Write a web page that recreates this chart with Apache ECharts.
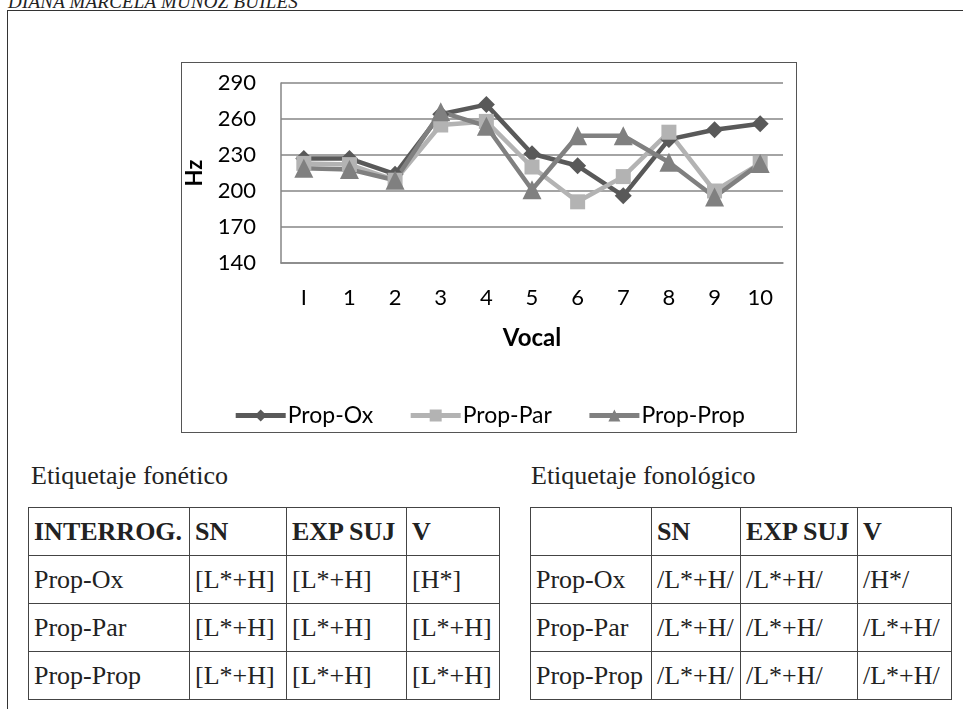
<!DOCTYPE html>
<html>
<head>
<meta charset="utf-8">
<script src="https://cdn.jsdelivr.net/npm/echarts@6/dist/echarts.min.js"></script>
<style>
  html, body { margin: 0; padding: 0; background: #fff; width: 963px; height: 709px; overflow: hidden; position: relative; }
  .hdr { position: absolute; left: 8px; top: -8px; font: italic 19px/19px "Liberation Serif", serif; letter-spacing: 0.2px; color: #222; white-space: nowrap; }
  .frame { position: absolute; left: 7px; top: 10px; width: 1000px; height: 800px; border-left: 1px solid #333; border-top: 1px solid #333; }
  #chart { position: absolute; left: 181px; top: 62px; width: 616px; height: 371px; border: 1px solid #555; box-sizing: border-box; }
  .title { position: absolute; font: 26px "Liberation Serif", serif; color: #222; white-space: nowrap; }
  table { position: absolute; border-collapse: collapse; font: 26px "Liberation Serif", serif; color: #222; table-layout: fixed; }
  td { border: 1px solid #444; height: 48px; padding: 0 0 0 5px; white-space: nowrap; box-sizing: border-box; overflow: visible; }
  td.b { font-weight: bold; }
</style>
</head>
<body>
<div class="hdr">DIANA MARCELA MUÑOZ BUILES</div>
<div class="frame"></div>
<div id="chart"></div>
<div class="title" style="left:31px; top:461px;">Etiquetaje fonético</div>
<div class="title" style="left:531px; top:461px;">Etiquetaje fonológico</div>
<table id="t1" style="left:28px; top:507px; width:471px;">
  <colgroup><col style="width:161px"><col style="width:97px"><col style="width:120px"><col style="width:93px"></colgroup>
</table>
<table id="t2" style="left:530px; top:507px; width:421px;">
  <colgroup><col style="width:121px"><col style="width:89px"><col style="width:117px"><col style="width:94px"></colgroup>
</table>
<script>
// ---- chart data ----
const categories = ['I', '1', '2', '3', '4', '5', '6', '7', '8', '9', '10'];
const seriesNames = ['Prop-Ox', 'Prop-Par', 'Prop-Prop'];
const propOx   = [227, 227, 214, 264, 272, 231, 221, 196, 243, 251, 256];
const propPar  = [223, 222, 209, 255, 258, 220, 191, 212, 249, 200, 223];
const propProp = [219, 218, 209, 266, 254, 201, 246, 246, 224, 195, 223];
const yMin = 140, yMax = 290, yStep = 30;

// ---- table data ----
const phoneticHeader = ['INTERROG.', 'SN', 'EXP SUJ', 'V'];
const phoneticRows = [
  ['Prop-Ox', '[L*+H]', '[L*+H]', '[H*]'],
  ['Prop-Par', '[L*+H]', '[L*+H]', '[L*+H]'],
  ['Prop-Prop', '[L*+H]', '[L*+H]', '[L*+H]']
];
const phonologicalHeader = ['', 'SN', 'EXP SUJ', 'V'];
const phonologicalRows = [
  ['Prop-Ox', '/L*+H/', '/L*+H/', '/H*/'],
  ['Prop-Par', '/L*+H/', '/L*+H/', '/L*+H/'],
  ['Prop-Prop', '/L*+H/', '/L*+H/', '/L*+H/']
];

function fillTable(id, header, rows) {
  const t = document.getElementById(id);
  const hr = document.createElement('tr');
  header.forEach(h => { const td = document.createElement('td'); td.className = 'b'; td.textContent = h; hr.appendChild(td); });
  t.appendChild(hr);
  rows.forEach(r => {
    const tr = document.createElement('tr');
    r.forEach(c => { const td = document.createElement('td'); td.textContent = c; tr.appendChild(td); });
    t.appendChild(tr);
  });
}
fillTable('t1', phoneticHeader, phoneticRows);
fillTable('t2', phonologicalHeader, phonologicalRows);

const font = 'Lato';
const chart = echarts.init(document.getElementById('chart'), null, { renderer: 'canvas' });
const mk = (name, data, color, symbol, size) => ({
  name, type: 'line', data, symbol, symbolSize: size,
  lineStyle: { color, width: 4.5 }, itemStyle: { color }, emphasis: { disabled: true }, animation: false
});
chart.setOption({
  animation: false,
  grid: { left: 99, right: 13, top: 20, bottom: 169, outerBoundsMode: 'none', containLabel: false },
  legend: {
    data: seriesNames.map(n => ({ name: n, lineStyle: { width: 5 } })),
    left: 'center', top: 336, itemWidth: 50, itemHeight: 15, itemGap: 35,
    lineStyle: { width: 5 },
    textStyle: { fontFamily: font, fontSize: 23, color: '#000', padding: [0, 0, 0, -3] }
  },
  xAxis: {
    type: 'category', data: categories, boundaryGap: true,
    name: 'Vocal', nameLocation: 'middle', nameGap: 63,
    nameTextStyle: { fontFamily: font, fontSize: 24, fontWeight: 'bold', color: '#000' },
    axisLine: { lineStyle: { color: '#868686', width: 1.5 } },
    axisTick: { show: false },
    axisLabel: { fontFamily: font, fontSize: 22, color: '#000', margin: 24 }
  },
  yAxis: {
    type: 'value', min: yMin, max: yMax, interval: yStep,
    name: 'Hz', nameLocation: 'middle', nameGap: 75, nameRotate: 90,
    nameTextStyle: { fontFamily: font, fontSize: 22, fontWeight: 'bold', color: '#000' },
    axisLine: { show: true, lineStyle: { color: '#868686', width: 1.5 } },
    axisTick: { show: false },
    splitLine: { lineStyle: { color: '#868686', width: 1.5 } },
    axisLabel: { fontFamily: font, fontSize: 22, color: '#000', margin: 25 }
  },
  series: [
    mk(seriesNames[0], propOx, '#595959', 'diamond', 17),
    mk(seriesNames[1], propPar, '#b3b3b3', 'rect', 15),
    mk(seriesNames[2], propProp, '#808080', 'triangle', 19)
  ]
});
</script>
</body>
</html>
